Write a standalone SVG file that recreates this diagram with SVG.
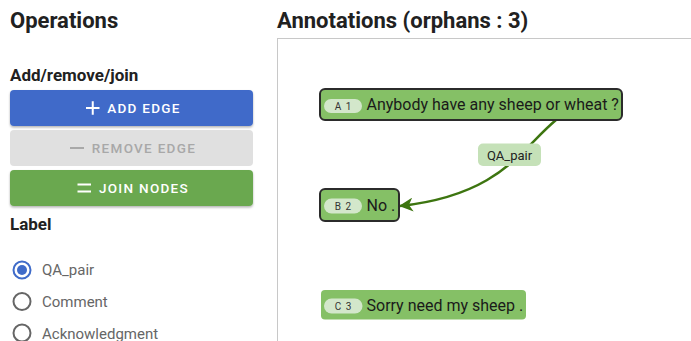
<svg xmlns="http://www.w3.org/2000/svg" width="691" height="341" viewBox="0 0 691 341">
<defs>
<style>
text{font-family:Roboto,"Liberation Sans",sans-serif}
.h1{font-size:22px;font-weight:bold;fill:#212121}
.h2{font-size:17px;font-weight:bold;fill:#212121}
.btn{font-size:13.5px;font-weight:500;letter-spacing:1.3px;text-anchor:middle}
.radio{font-size:15px;fill:#666}
.node{fill:#85c066}
.sel{stroke:#2b2b2b;stroke-width:2}
.badge{fill:#d3e7cb}
.bt{font-size:10px;fill:#333;text-anchor:middle;letter-spacing:1px}
.nt{font-size:16px;fill:#1a1a1a}
</style>
<filter id="sh" x="-5%" y="-20%" width="110%" height="150%"><feDropShadow dx="0" dy="1.5" stdDeviation="1" flood-opacity="0.3"/></filter>
<marker id="arr" viewBox="0 0 14 14" refX="13" refY="7" markerWidth="14" markerHeight="14" markerUnits="userSpaceOnUse" orient="auto"><path d="M0,0 L14,7 L0,14 L4,7 Z" fill="#3d7510"/></marker>
</defs>
<rect width="691" height="341" fill="#fff"/>
<g id="left-panel">
<text class="h1" x="10" y="28">Operations</text>
<text class="h2" x="10" y="81">Add/remove/join</text>
<g id="btn-add">
<rect x="10" y="90" width="243" height="36" rx="4" fill="#3f6bc9" filter="url(#sh)"/>
<path d="M86,108 H99.5 M92.75,101.3 V114.7" stroke="#fff" stroke-width="2"/>
<text class="btn" x="144" y="113" fill="#fff">ADD EDGE</text>
</g>
<g id="btn-remove">
<rect x="10" y="130" width="243" height="36" rx="4" fill="#e0e0e0"/>
<path d="M70,148 H84" stroke="#a8a8a8" stroke-width="2"/>
<text class="btn" x="144" y="153" fill="#a8a8a8">REMOVE EDGE</text>
</g>
<g id="btn-join">
<rect x="10" y="170" width="243" height="36" rx="4" fill="#6aa84f" filter="url(#sh)"/>
<path d="M77.5,184.5 H91 M77.5,191.5 H91" stroke="#fff" stroke-width="2"/>
<text class="btn" x="144" y="193" fill="#fff">JOIN NODES</text>
</g>
<text class="h2" x="10" y="230">Label</text>
<circle cx="22" cy="270" r="8.5" fill="none" stroke="#3f6bc9" stroke-width="2"/>
<circle cx="22" cy="270" r="5" fill="#3f6bc9"/>
<text class="radio" x="42" y="275">QA_pair</text>
<circle cx="22" cy="301.5" r="8.5" fill="none" stroke="#666" stroke-width="2"/>
<text class="radio" x="42" y="307">Comment</text>
<circle cx="22" cy="333" r="8.5" fill="none" stroke="#666" stroke-width="2"/>
<text class="radio" x="42" y="338.5">Acknowledgment</text>
</g>
<text class="h1" x="277" y="28">Annotations (orphans : 3)</text>
<rect x="277.5" y="38.5" width="430" height="320" fill="#fff" stroke="#c8c8c8" stroke-width="1"/>
<g id="connectors">
<path d="M556,120 C520,150 500,195 400,206" fill="none" stroke="#3d7510" stroke-width="2.5" marker-end="url(#arr)"/>
<g id="edge-label">
<rect x="478" y="143.5" width="63" height="22.5" rx="5" fill="#c5e1b8"/>
<text x="509.5" y="159.5" font-size="13" fill="#222" text-anchor="middle">QA_pair</text>
</g>
</g>
<g id="node-A1">
<rect class="node sel" x="320" y="89" width="302" height="31" rx="5"/>
<rect class="badge" x="324" y="99" width="38" height="14" rx="7"/>
<text class="bt" x="343.5" y="110">A 1</text>
<text class="nt" x="366.5" y="110">Anybody have any sheep or wheat ?</text>
</g>
<g id="node-B2">
<rect class="node sel" x="320" y="189" width="79" height="32" rx="5"/>
<rect class="badge" x="324" y="198.5" width="38" height="15" rx="7.5"/>
<text class="bt" x="343.5" y="210">B 2</text>
<text class="nt" x="366.5" y="210.5">No .</text>
</g>
<g id="node-C3">
<rect class="node" x="321" y="290" width="205" height="29.5" rx="4"/>
<rect class="badge" x="324" y="298.5" width="38.5" height="15" rx="7.5"/>
<text class="bt" x="343.5" y="310">C 3</text>
<text class="nt" x="366.5" y="310.5">Sorry need my sheep .</text>
</g>
</svg>
